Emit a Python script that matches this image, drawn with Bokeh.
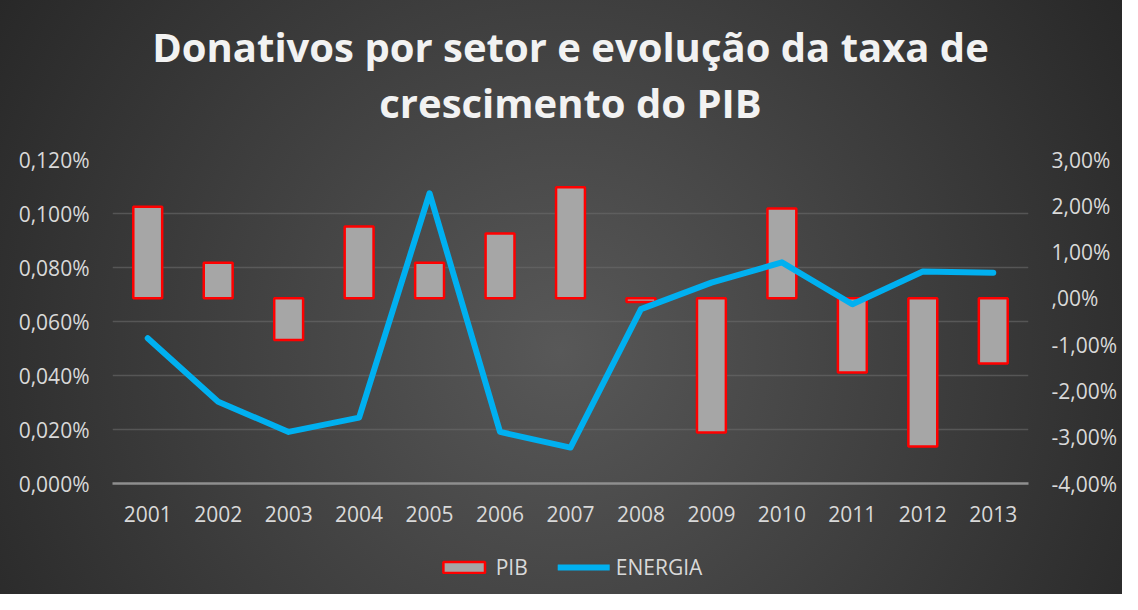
from bokeh.plotting import figure
from bokeh.layouts import column
from bokeh.models import (Range1d, LinearAxis, FixedTicker, CustomJSTickFormatter,
                          Legend, LegendItem, ColumnDataSource, FactorRange, Title)
from bokeh.embed import file_html
from bokeh.resources import INLINE

years = ["2001", "2002", "2003", "2004", "2005", "2006", "2007",
         "2008", "2009", "2010", "2011", "2012", "2013"]
# PIB (right axis, %)
pib = [1.98, 0.77, -0.90, 1.55, 0.77, 1.40, 2.40, -0.08, -2.90, 1.94, -1.60, -3.20, -1.41]
# ENERGIA (left axis, %)
energia = [0.0538, 0.0303, 0.0191, 0.0244, 0.1075, 0.0191, 0.0133,
           0.0646, 0.0744, 0.0819, 0.0664, 0.0785, 0.0781]

left_ticks = [0.0, 0.02, 0.04, 0.06, 0.08, 0.10, 0.12]
right_ticks = [-4, -3, -2, -1, 0, 1, 2, 3]

title_line1 = "Donativos por setor e evolução da taxa de"
title_line2 = "crescimento do PIB"
FONT = "Open Sans"
TXT = "#d9d9d9"
BAR_FILL = "#a6a6a6"
BAR_LINE = "#ff0000"
LINE_COLOR = "#00b0f0"

src = ColumnDataSource(dict(year=years, pib=pib, energia=energia))

p = figure(width=1122, height=540, x_range=FactorRange(*years, range_padding=0),
           y_range=Range1d(0, 0.12), output_backend="svg", toolbar_location=None,
           min_border_left=112, min_border_right=94, min_border_top=159,
           min_border_bottom=57)
p.extra_y_ranges = {"right": Range1d(-4, 3)}
p.border_fill_color = None
p.background_fill_color = None
p.outline_line_color = None

# title: p.title is the outer (top) line, added Title sits nearer the plot
p.title.text = title_line1
p.title.standoff = -60
t2 = Title(text=title_line2, standoff=59)
p.add_layout(t2, "above")
for t in [p.title, t2]:
    t.align = "center"
    t.text_font = FONT
    t.text_font_style = "bold"
    t.text_font_size = "40px"
    t.text_color = "#f2f2f2"

bars = p.vbar(x="year", top="pib", bottom=0, width=0.41, source=src, y_range_name="right",
              fill_color=BAR_FILL, line_color=BAR_LINE, line_width=2.5)
line = p.line(x="year", y="energia", source=src, line_color=LINE_COLOR, line_width=6,
              line_join="round", line_cap="round")

# axes
p.yaxis.ticker = FixedTicker(ticks=left_ticks)
p.yaxis.formatter = CustomJSTickFormatter(code="return tick.toFixed(3).replace('.', ',') + '%';")
ra = LinearAxis(y_range_name="right", ticker=FixedTicker(ticks=right_ticks),
                formatter=CustomJSTickFormatter(code="""
                    if (Math.abs(tick) < 1e-9) { return ',00%'; }
                    return tick.toFixed(2).replace('.', ',') + '%';"""))
p.add_layout(ra, "right")

for ax in [p.yaxis[0], ra, p.xaxis[0]]:
    ax.major_label_text_font = FONT
    ax.major_label_text_font_size = "21px"
    ax.major_label_text_color = TXT
    ax.major_tick_line_color = None
    ax.minor_tick_line_color = None
    ax.major_tick_out = 0
    ax.major_tick_in = 0
    ax.axis_line_color = None
    ax.major_label_standoff = 23

p.xaxis.axis_line_color = "#8f8f8f"
p.xaxis.axis_line_width = 2.5
p.xaxis.major_label_standoff = 22

p.xgrid.grid_line_color = None
p.ygrid.ticker = FixedTicker(ticks=left_ticks[1:])
p.ygrid.grid_line_color = "#6a6a6a"
p.ygrid.grid_line_alpha = 0.6
p.ygrid.grid_line_width = 1.5

# legend strip: a second figure below the chart; its renderers reuse the same data
# but are hidden, so only the legend is visible
p2 = figure(width=1122, height=54, output_backend="svg", toolbar_location=None,
            x_range=FactorRange(*years), y_range=Range1d(100, 101),
            x_axis_location=None, y_axis_location=None,
            min_border_left=0, min_border_right=0, min_border_top=0, min_border_bottom=0)
p2.border_fill_color = None
p2.background_fill_color = None
p2.outline_line_color = None
p2.grid.visible = False
lg_bar = p2.vbar(x="year", top="pib", bottom=0, width=0.41, source=src,
                 fill_color=BAR_FILL, line_color=BAR_LINE, line_width=2.5)
lg_line = p2.line(x="year", y="energia", source=src, line_color=LINE_COLOR, line_width=6,
                  line_cap="round")
lg_bar.visible = False
lg_line.visible = False

legend = Legend(items=[LegendItem(label="PIB", renderers=[lg_bar]),
                       LegendItem(label="ENERGIA", renderers=[lg_line])],
                orientation="horizontal", location="center",
                background_fill_alpha=0, border_line_color=None,
                inactive_fill_alpha=0,
                label_text_font=FONT, label_text_font_size="21px", label_text_color=TXT,
                glyph_width=52, glyph_height=14, spacing=30, label_standoff=6,
                margin=0, padding=6)
p2.add_layout(legend)

layout = column(p, p2, spacing=0,
                styles={"background": "radial-gradient(circle farthest-corner at 50% 59%, #585858 0%, #282828 100%)"})

open("out.html", "w").write(file_html(layout, INLINE))
